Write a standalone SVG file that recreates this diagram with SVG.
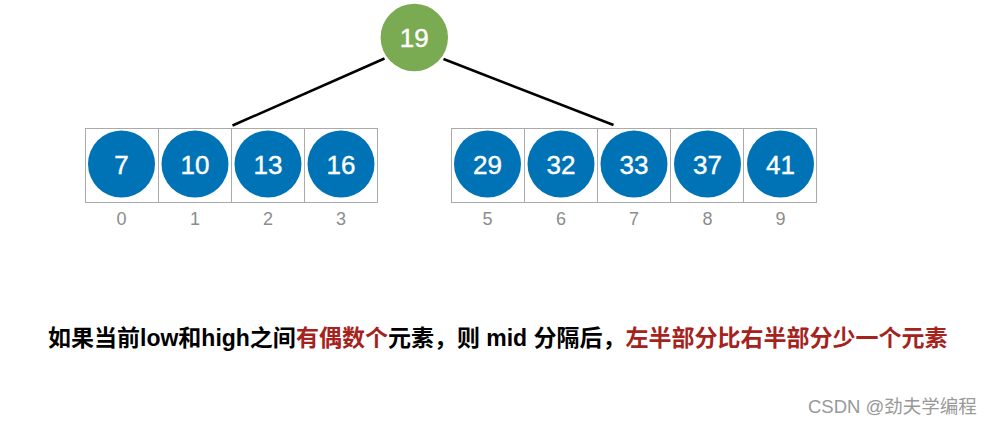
<svg xmlns="http://www.w3.org/2000/svg" width="994" height="425" viewBox="0 0 994 425">
<style>
.cell{fill:#fff;stroke:#aaaaaa;stroke-width:1}
.blue{fill:#0073b7}
.green{fill:#7aaa52}
.num{font-family:"Liberation Sans",Arial,sans-serif;font-size:26px;fill:#fff;text-anchor:middle;stroke:#fff;stroke-width:0.4}
.idx{font-family:"Liberation Sans",Arial,sans-serif;font-size:18px;fill:#8c8c8c;text-anchor:middle}
.edge{stroke:#000;stroke-width:2.5;fill:none}
.cap{font-family:"Liberation Sans","Noto Sans CJK SC",sans-serif;font-size:23px;font-weight:bold;fill:#000}
.red{fill:#a5231d}
.mark{font-family:"Liberation Sans","Noto Sans CJK SC",sans-serif;font-size:18.5px;fill:#999}
</style>
<rect width="994" height="425" fill="#fff"/>
<g id="connectors">
<line class="edge" x1="384.5" y1="58.5" x2="232.5" y2="125.5"/>
<line class="edge" x1="443.5" y1="59" x2="613.5" y2="125"/>
</g>
<g id="root">
<circle class="green" cx="414.3" cy="37.5" r="33.7"/>
<text class="num" x="414.3" y="47">19</text>
</g>
<g id="left-array">
<rect class="cell" x="85.5" y="128.5" width="73" height="74"/>
<rect class="cell" x="158.5" y="128.5" width="73" height="74"/>
<rect class="cell" x="231.5" y="128.5" width="73" height="74"/>
<rect class="cell" x="304.5" y="128.5" width="73" height="74"/>
</g>
<g id="right-array">
<rect class="cell" x="451.5" y="128.5" width="73" height="74"/>
<rect class="cell" x="524.5" y="128.5" width="73" height="74"/>
<rect class="cell" x="597.5" y="128.5" width="73" height="74"/>
<rect class="cell" x="670.5" y="128.5" width="73" height="74"/>
<rect class="cell" x="743.5" y="128.5" width="73" height="74"/>
</g>
<g id="n0"><circle class="blue" cx="121.5" cy="164" r="33.5"/><text class="num" x="121.5" y="173.5">7</text><text class="idx" x="121.5" y="224.5">0</text></g>
<g id="n1"><circle class="blue" cx="195" cy="164" r="33.5"/><text class="num" x="195" y="173.5">10</text><text class="idx" x="195" y="224.5">1</text></g>
<g id="n2"><circle class="blue" cx="268" cy="164" r="33.5"/><text class="num" x="268" y="173.5">13</text><text class="idx" x="268" y="224.5">2</text></g>
<g id="n3"><circle class="blue" cx="341" cy="164" r="33.5"/><text class="num" x="341" y="173.5">16</text><text class="idx" x="341" y="224.5">3</text></g>
<g id="n5"><circle class="blue" cx="487.5" cy="164" r="33.5"/><text class="num" x="487.5" y="173.5">29</text><text class="idx" x="487.5" y="224.5">5</text></g>
<g id="n6"><circle class="blue" cx="561" cy="164" r="33.5"/><text class="num" x="561" y="173.5">32</text><text class="idx" x="561" y="224.5">6</text></g>
<g id="n7"><circle class="blue" cx="634" cy="164" r="33.5"/><text class="num" x="634" y="173.5">33</text><text class="idx" x="634" y="224.5">7</text></g>
<g id="n8"><circle class="blue" cx="707.5" cy="164" r="33.5"/><text class="num" x="707.5" y="173.5">37</text><text class="idx" x="707.5" y="224.5">8</text></g>
<g id="n9"><circle class="blue" cx="780.5" cy="164" r="33.5"/><text class="num" x="780.5" y="173.5">41</text><text class="idx" x="780.5" y="224.5">9</text></g>
<text class="cap" x="48" y="346">如果当前low和high之间<tspan class="red">有偶数个</tspan>元素，则 mid 分隔后，<tspan class="red">左半部分比右半部分少一个元素</tspan></text>
<text class="mark" x="808" y="413">CSDN @劲夫学编程</text>
</svg>
